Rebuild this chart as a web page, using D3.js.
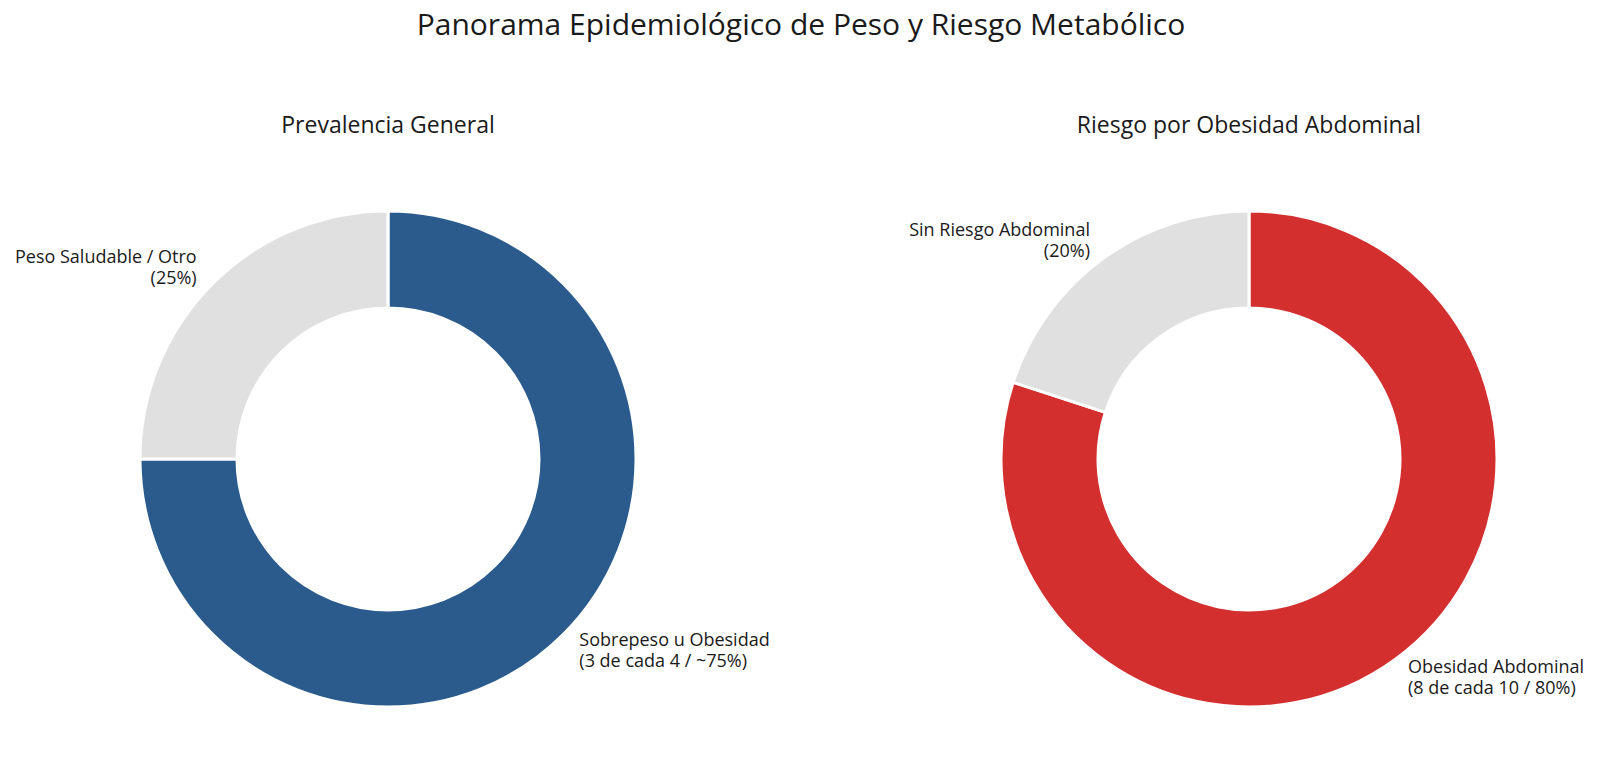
<!DOCTYPE html>
<html>
<head>
<meta charset="utf-8">
<script src="https://cdn.jsdelivr.net/npm/d3@7"></script>
<style>
  body { margin: 0; background: #fff; }
  svg text { font-family: "Open Sans", "Noto Sans", sans-serif; fill: #1a1a1a; }
</style>
</head>
<body>
<div id="chart"></div>
<script>
// chart data
var chartTitle = "Panorama Epidemiológico de Peso y Riesgo Metabólico";
var panelTitles = ["Prevalencia General", "Riesgo por Obesidad Abdominal"];

var prevalenceCategories = ["Sobrepeso u Obesidad", "Peso Saludable / Otro"];
var prevalenceValues = [75, 25];
var prevalenceLabels = ["Sobrepeso u Obesidad\n(3 de cada 4 / ~75%)", "Peso Saludable / Otro\n(25%)"];

var abdominalCategories = ["Obesidad Abdominal", "Sin Riesgo Abdominal"];
var abdominalValues = [80, 20];
var abdominalLabels = ["Obesidad Abdominal\n(8 de cada 10 / 80%)", "Sin Riesgo Abdominal\n(20%)"];

var width = 1600, height = 782;
var outerR = 248, innerR = 151;
var centerY = 459;

var svg = d3.select("#chart").append("svg")
    .attr("width", width)
    .attr("height", height);

// title
svg.append("text")
    .attr("x", width / 2 + 1)
    .attr("y", 35)
    .attr("text-anchor", "middle")
    .style("font-size", "30px")
    .text(chartTitle);

// panel positions
var panelX = d3.scalePoint().domain([0, 1]).range([388, 1249]);

var panels = [
    { cats: prevalenceCategories, vals: prevalenceValues, labels: prevalenceLabels, colors: ["#2a5b8c", "#e0e0e0"] },
    { cats: abdominalCategories, vals: abdominalValues, labels: abdominalLabels, colors: ["#d32f2f", "#e0e0e0"] }
];

var pie = d3.pie().sort(null).value(function (d) { return d; });
var arc = d3.arc().innerRadius(innerR).outerRadius(outerR);

panels.forEach(function (p, i) {
    var cx = panelX(i);
    var g = svg.append("g").attr("transform", "translate(" + cx + "," + centerY + ")");

    svg.append("text")
        .attr("x", cx)
        .attr("y", 133)
        .attr("text-anchor", "middle")
        .style("font-size", "23px")
        .text(panelTitles[i]);

    var color = d3.scaleOrdinal().domain(p.cats).range(p.colors);
    var arcs = pie(p.vals);

    g.selectAll("path")
        .data(arcs)
        .enter()
        .append("path")
        .attr("d", arc)
        .attr("fill", function (d, j) { return color(p.cats[j]); })
        .attr("stroke", "white")
        .attr("stroke-width", 3);

    // labels at 1.1 * radius, like the original
    arcs.forEach(function (d, j) {
        var mid = (d.startAngle + d.endAngle) / 2;
        var lx = Math.sin(mid) * 246 * 1.1;
        var ly = -Math.cos(mid) * 246 * 1.1;
        var lines = p.labels[j].split("\n");
        var lineH = 21;
        var t = g.append("text")
            .attr("text-anchor", lx < 0 ? "end" : "start")
            .style("font-size", "18px");
        lines.forEach(function (line, k) {
            t.append("tspan")
                .attr("x", lx)
                .attr("y", ly + (k - (lines.length - 1) / 2) * lineH + 6)
                .text(line);
        });
    });
});
</script>
</body>
</html>
